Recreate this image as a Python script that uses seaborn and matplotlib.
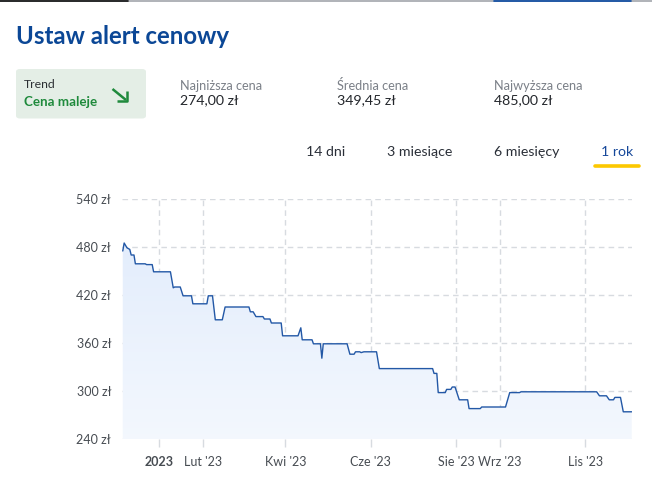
import numpy as np
import pandas as pd
import matplotlib
matplotlib.use("Agg")
import matplotlib.pyplot as plt
import matplotlib.dates as mdates
from matplotlib.colors import LinearSegmentedColormap
from matplotlib.patches import FancyBboxPatch
from matplotlib.lines import Line2D
import seaborn as sns

# price history (breakpoints)
dates = ["2022-12-06", "2022-12-07", "2022-12-09", "2022-12-11", "2022-12-12", "2022-12-14",
         "2022-12-15", "2022-12-22", "2022-12-23", "2022-12-27", "2022-12-28", "2023-01-09",
         "2023-01-11", "2023-01-12", "2023-01-16", "2023-01-18", "2023-01-24", "2023-01-25",
         "2023-02-04", "2023-02-05", "2023-02-08", "2023-02-10", "2023-02-15", "2023-02-17",
         "2023-03-06", "2023-03-07", "2023-03-09", "2023-03-11", "2023-03-16", "2023-03-17",
         "2023-03-21", "2023-03-22", "2023-03-29", "2023-03-30", "2023-04-10", "2023-04-12",
         "2023-04-13", "2023-04-20", "2023-04-21", "2023-04-26", "2023-04-27", "2023-04-28",
         "2023-05-15", "2023-05-17", "2023-05-20", "2023-05-21", "2023-05-24", "2023-05-25",
         "2023-05-27", "2023-06-05", "2023-06-07", "2023-07-15", "2023-07-16", "2023-07-18",
         "2023-07-19", "2023-07-24", "2023-07-25", "2023-07-28", "2023-07-29", "2023-07-31",
         "2023-08-03", "2023-08-09", "2023-08-10", "2023-08-18", "2023-08-19", "2023-09-05",
         "2023-09-08", "2023-09-15", "2023-09-16", "2023-11-09", "2023-11-11", "2023-11-16",
         "2023-11-18", "2023-11-21", "2023-11-22", "2023-11-26", "2023-11-28", "2023-12-04"]
prices = [475, 485, 479, 477, 470, 470,
          459, 459, 458, 458, 449, 449,
          429, 430, 430, 419, 419, 409,
          409, 419, 419, 389, 389, 405,
          405, 399, 399, 393, 393, 390,
          390, 385, 385, 369, 369, 379,
          364, 364, 359, 359, 341, 359,
          359, 346, 346, 349, 349, 348,
          349, 349, 328, 328, 322, 322,
          298, 298, 302, 302, 305, 305,
          289, 289, 278, 278, 280, 280,
          298, 298, 299, 299, 294, 294,
          289, 289, 292, 292, 274, 274]

tick_dates = ["2023-01-01", "2023-02-01", "2023-04-01", "2023-06-01",
              "2023-08-01", "2023-09-01", "2023-11-01"]
tick_labels = ["2023", "Lut '23", "Kwi '23", "Cze '23", "Sie '23", "Wrz '23", "Lis '23"]
y_ticks = [240, 300, 360, 420, 480, 540]

stat_names = ["Najniższa cena", "Średnia cena", "Najwyższa cena"]
stat_values = ["274,00 zł", "349,45 zł", "485,00 zł"]
tabs = ["14 dni", "3 miesiące", "6 miesięcy", "1 rok"]

df = pd.DataFrame({"date": pd.to_datetime(dates), "price": prices})

sns.set_style("white")
plt.rcParams["font.family"] = ["Lato", "DejaVu Sans"]
grid_col = "#d7dbe0"
plt.rcParams["xtick.color"] = grid_col
plt.rcParams["ytick.color"] = grid_col

W, H = 652, 482
fig = plt.figure(figsize=(W / 100, H / 100), dpi=100)

def fx(px):
    return px / W

def fy(py):
    return 1 - py / H

ax = fig.add_axes([fx(122.2), fy(439), fx(631.7) - fx(122.2), fy(199) - fy(439)])
ax.patch.set_visible(False)

line_col = "#2358a6"
sns.lineplot(data=df, x="date", y="price", ax=ax, color=line_col, linewidth=1.0,
             errorbar=None, zorder=4)

# gradient area under the line, clipped to the area polygon
x0 = mdates.date2num(df["date"].iloc[0])
x1 = mdates.date2num(df["date"].iloc[-1])
poly = ax.fill_between(df["date"], df["price"], 240)
area_path = poly.get_paths()[0]
poly.remove()
cmap = LinearSegmentedColormap.from_list("area", ["#e3edfc", "#f4f8fe"])
grad = np.linspace(0, 1, 200).reshape(-1, 1)
im = ax.imshow(grad, cmap=cmap, aspect="auto", extent=[x0 - 10, x1 + 10, 230, 490],
               origin="upper", zorder=2, interpolation="bilinear")
im.set_clip_path(area_path, transform=ax.transData)

# a hair of space on the left so the area does not touch the clip edge
ax.set_xlim(x0 - 0.4, x1)
ax.set_ylim(240, 540)

ax.set_xticks(pd.to_datetime(tick_dates))
ax.set_xticklabels(tick_labels)
ax.set_yticks(y_ticks)
ax.set_yticklabels([f"{v} zł" for v in y_ticks])
ax.grid(True, color=grid_col, linewidth=1.0, linestyle=(0, (4, 3)), zorder=1)
ax.tick_params(axis="x", bottom=True, length=6, width=1.0, color=grid_col, pad=6,
               labelsize=9, labelcolor="#474c52")
ax.tick_params(axis="y", left=False, right=False, length=0, pad=8, labelsize=9,
               labelcolor="#474c52")
ax.get_xticklabels()[0].set_fontweight("bold")
ax.set_xlabel("")
ax.set_ylabel("")
for s in ax.spines.values():
    s.set_visible(False)

# header
fig.text(fx(16), fy(36), "Ustaw alert cenowy", fontsize=17.3, fontweight="bold",
         color="#0b4796", va="center", ha="left")

box = FancyBboxPatch((fx(16), fy(118.5)), fx(146) - fx(16), fy(69) - fy(118.5),
                     boxstyle="round,pad=0,rounding_size=0.006",
                     transform=fig.transFigure, facecolor="#e4eee6", edgecolor="none")
fig.patches.append(box)
fig.text(fx(24), fy(85), "Trend", fontsize=8.8, color="#2b2f33", va="center")
fig.text(fx(24), fy(101.5), "Cena maleje", fontsize=9.6, fontweight="bold",
         color="#1f8a3c", va="center")
green = "#1f8a3c"
fig.add_artist(Line2D([fx(112.5), fx(126)], [fy(89), fy(100)], transform=fig.transFigure,
                      color=green, linewidth=1.8, solid_capstyle="butt"))
fig.add_artist(Line2D([fx(117), fx(126.5), fx(126.5)], [fy(100.5), fy(100.5), fy(91)],
                      transform=fig.transFigure, color=green, linewidth=1.8,
                      solid_capstyle="butt"))

for i, (name, val) in enumerate(zip(stat_names, stat_values)):
    xpos = [180, 337, 494][i]
    fig.text(fx(xpos), fy(86), name, fontsize=9.2, color="#7b8088", va="center")
    fig.text(fx(xpos), fy(100.5), val, fontsize=10.2, color="#23262b", va="center")

tab_x = [306, 387, 494, 601]
for i, t in enumerate(tabs):
    col = "#16489a" if i == 3 else "#2a2f38"
    fig.text(fx(tab_x[i]), fy(152.5), t, fontsize=10.2, color=col, va="center")
fig.add_artist(Line2D([fx(594.5), fx(638.5)], [fy(165.5), fy(165.5)],
                      transform=fig.transFigure, color="#fcc800",
                      linewidth=2.6, solid_capstyle="round"))

# cut-off page bar at the very top
fig.add_artist(Line2D([0, 1], [fy(0.5), fy(0.5)], transform=fig.transFigure,
                      color="#a2a6ab", linewidth=1.2))
fig.add_artist(Line2D([0, fx(128)], [fy(0.5), fy(0.5)], transform=fig.transFigure,
                      color="#111111", linewidth=1.2))
fig.add_artist(Line2D([fx(494), fx(631)], [fy(0.5), fy(0.5)],
                      transform=fig.transFigure, color="#0a4aa3", linewidth=1.2))

fig.savefig("out.png", dpi=100)
